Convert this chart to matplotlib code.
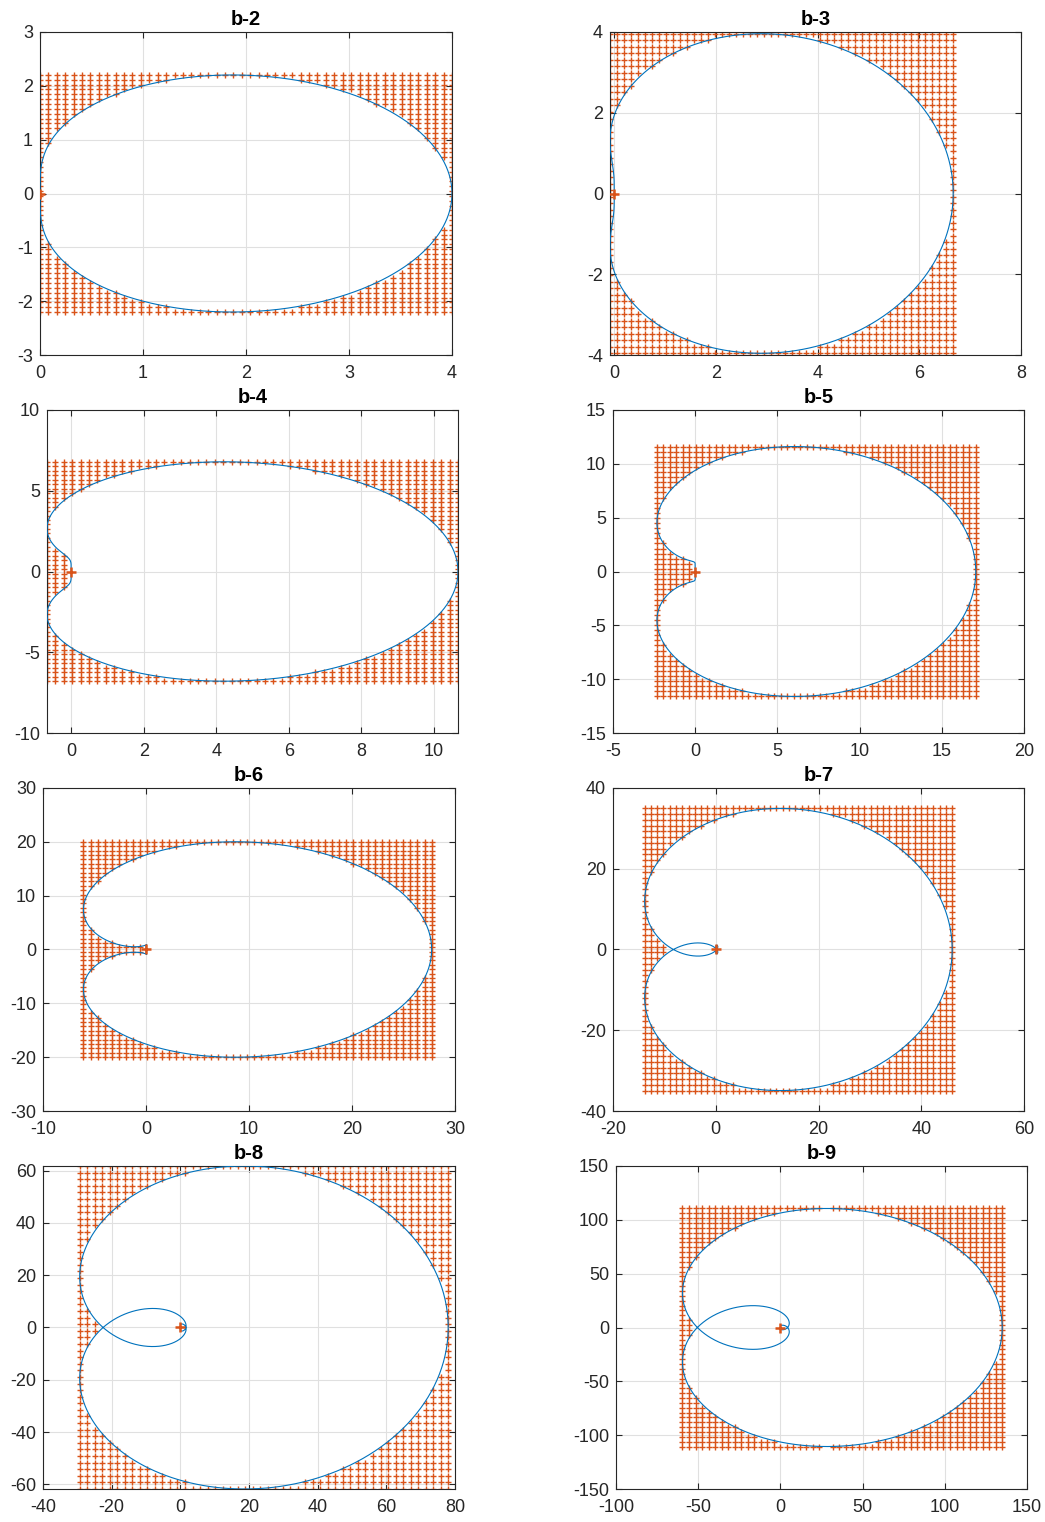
import matplotlib.pyplot as plt
import numpy as np

plt.rcParams["font.family"] = ["Liberation Sans", "DejaVu Sans"]
plt.rcParams["axes.unicode_minus"] = False

# one panel per BDF order, read row by row
orders = [2, 3, 4, 5, 6, 7, 8, 9]
titles = ["b-2", "b-3", "b-4", "b-5", "b-6", "b-7", "b-8", "b-9"]
n_grid = 50  # test points per side of the bounding box

# axis limits (None = tight to the curve) and tick steps
xlims = [(None, 4), (None, 8), (None, None), (-5, 20), (-10, 30), (-20, 60), (-40, 80), (-100, 150)]
ylims = [(-3, 3), (-4, 4), (-10, 10), (-15, 15), (-30, 30), (-40, 40), (None, None), (-150, 150)]
xsteps = [1, 2, 2, 5, 10, 20, 20, 50]
ysteps = [1, 2, 5, 5, 10, 20, 20, 50]

# axes boxes in pixels: left, right, top, bottom
boxes = [
    (40, 452, 32, 355), (610, 1021, 32, 355),
    (47, 458, 410, 733), (613, 1024, 410, 733),
    (43, 455, 788, 1111), (613, 1024, 788, 1111),
    (43, 455, 1166, 1489), (616, 1027, 1166, 1489),
]

BLUE = "#0072BD"
RED = "#D95319"
W, H = 1045, 1522


def rho(k):
    # first characteristic polynomial of BDF-k, sigma(zeta) = zeta^k
    total = np.poly1d([0.0])
    for j in range(1, k + 1):
        total = total + np.poly1d([1.0, -1.0]) ** j * np.poly1d([1.0] + [0.0] * (k - j)) / j
    return total.coeffs


def stable(k, z):
    c = np.tile(rho(k).astype(complex), (z.size, 1))
    c[:, 0] -= z
    comp = np.zeros((z.size, k, k), dtype=complex)
    comp[:, 0, :] = -c[:, 1:] / c[:, [0]]
    comp[:, np.arange(1, k), np.arange(k - 1)] = 1.0
    roots = np.linalg.eigvals(comp)
    return np.abs(roots).max(axis=1) <= 1 + 1e-9


def main():
    fig = plt.figure(figsize=(W / 100, H / 100), dpi=100)
    theta = np.linspace(0, 2 * np.pi, 2000)
    for i, k in enumerate(orders):
        l, r, t, b = boxes[i]
        ax = fig.add_axes([l / W, 1 - b / H, (r - l) / W, (b - t) / H])

        w = np.exp(-1j * theta)
        curve = sum((1 - w) ** j / j for j in range(1, k + 1))

        gx = np.linspace(curve.real.min(), curve.real.max(), n_grid)
        gy = np.linspace(curve.imag.min(), curve.imag.max(), n_grid)
        X, Y = np.meshgrid(gx, gy)
        Z = (X + 1j * Y).ravel()
        mask = stable(k, Z)

        ax.plot(Z[mask].real, Z[mask].imag, "+", color=RED, ms=5, mew=1.0, zorder=2)
        ax.plot(curve.real, curve.imag, color=BLUE, lw=0.8, zorder=3)
        ax.plot([0], [0], "+", color=RED, ms=6.5, mew=1.8, zorder=4)

        x0, x1 = xlims[i]
        y0, y1 = ylims[i]
        xl = (curve.real.min() if x0 is None else x0, curve.real.max() if x1 is None else x1)
        yl = (curve.imag.min() if y0 is None else y0, curve.imag.max() if y1 is None else y1)
        ax.set_xlim(xl)
        ax.set_ylim(yl)
        xs, ys = xsteps[i], ysteps[i]
        ax.set_xticks(np.arange(np.ceil(xl[0] / xs - 1e-9) * xs, xl[1] + 1e-9, xs))
        ax.set_yticks(np.arange(np.ceil(yl[0] / ys - 1e-9) * ys, yl[1] + 1e-9, ys))

        ax.grid(True, color="#e0e0e0", lw=0.8)
        ax.set_axisbelow(True)
        ax.tick_params(direction="in", length=4, width=0.8, labelsize=13,
                       top=True, right=True, colors="#262626")
        ax.tick_params(axis="x", pad=7)
        ax.tick_params(axis="y", pad=5)
        for s in ax.spines.values():
            s.set_color("#262626")
            s.set_linewidth(0.8)
        ax.set_title(titles[i], fontsize=14.5, fontweight="bold", pad=5)

    fig.savefig("out.png", dpi=100)


if __name__ == "__main__":
    main()
